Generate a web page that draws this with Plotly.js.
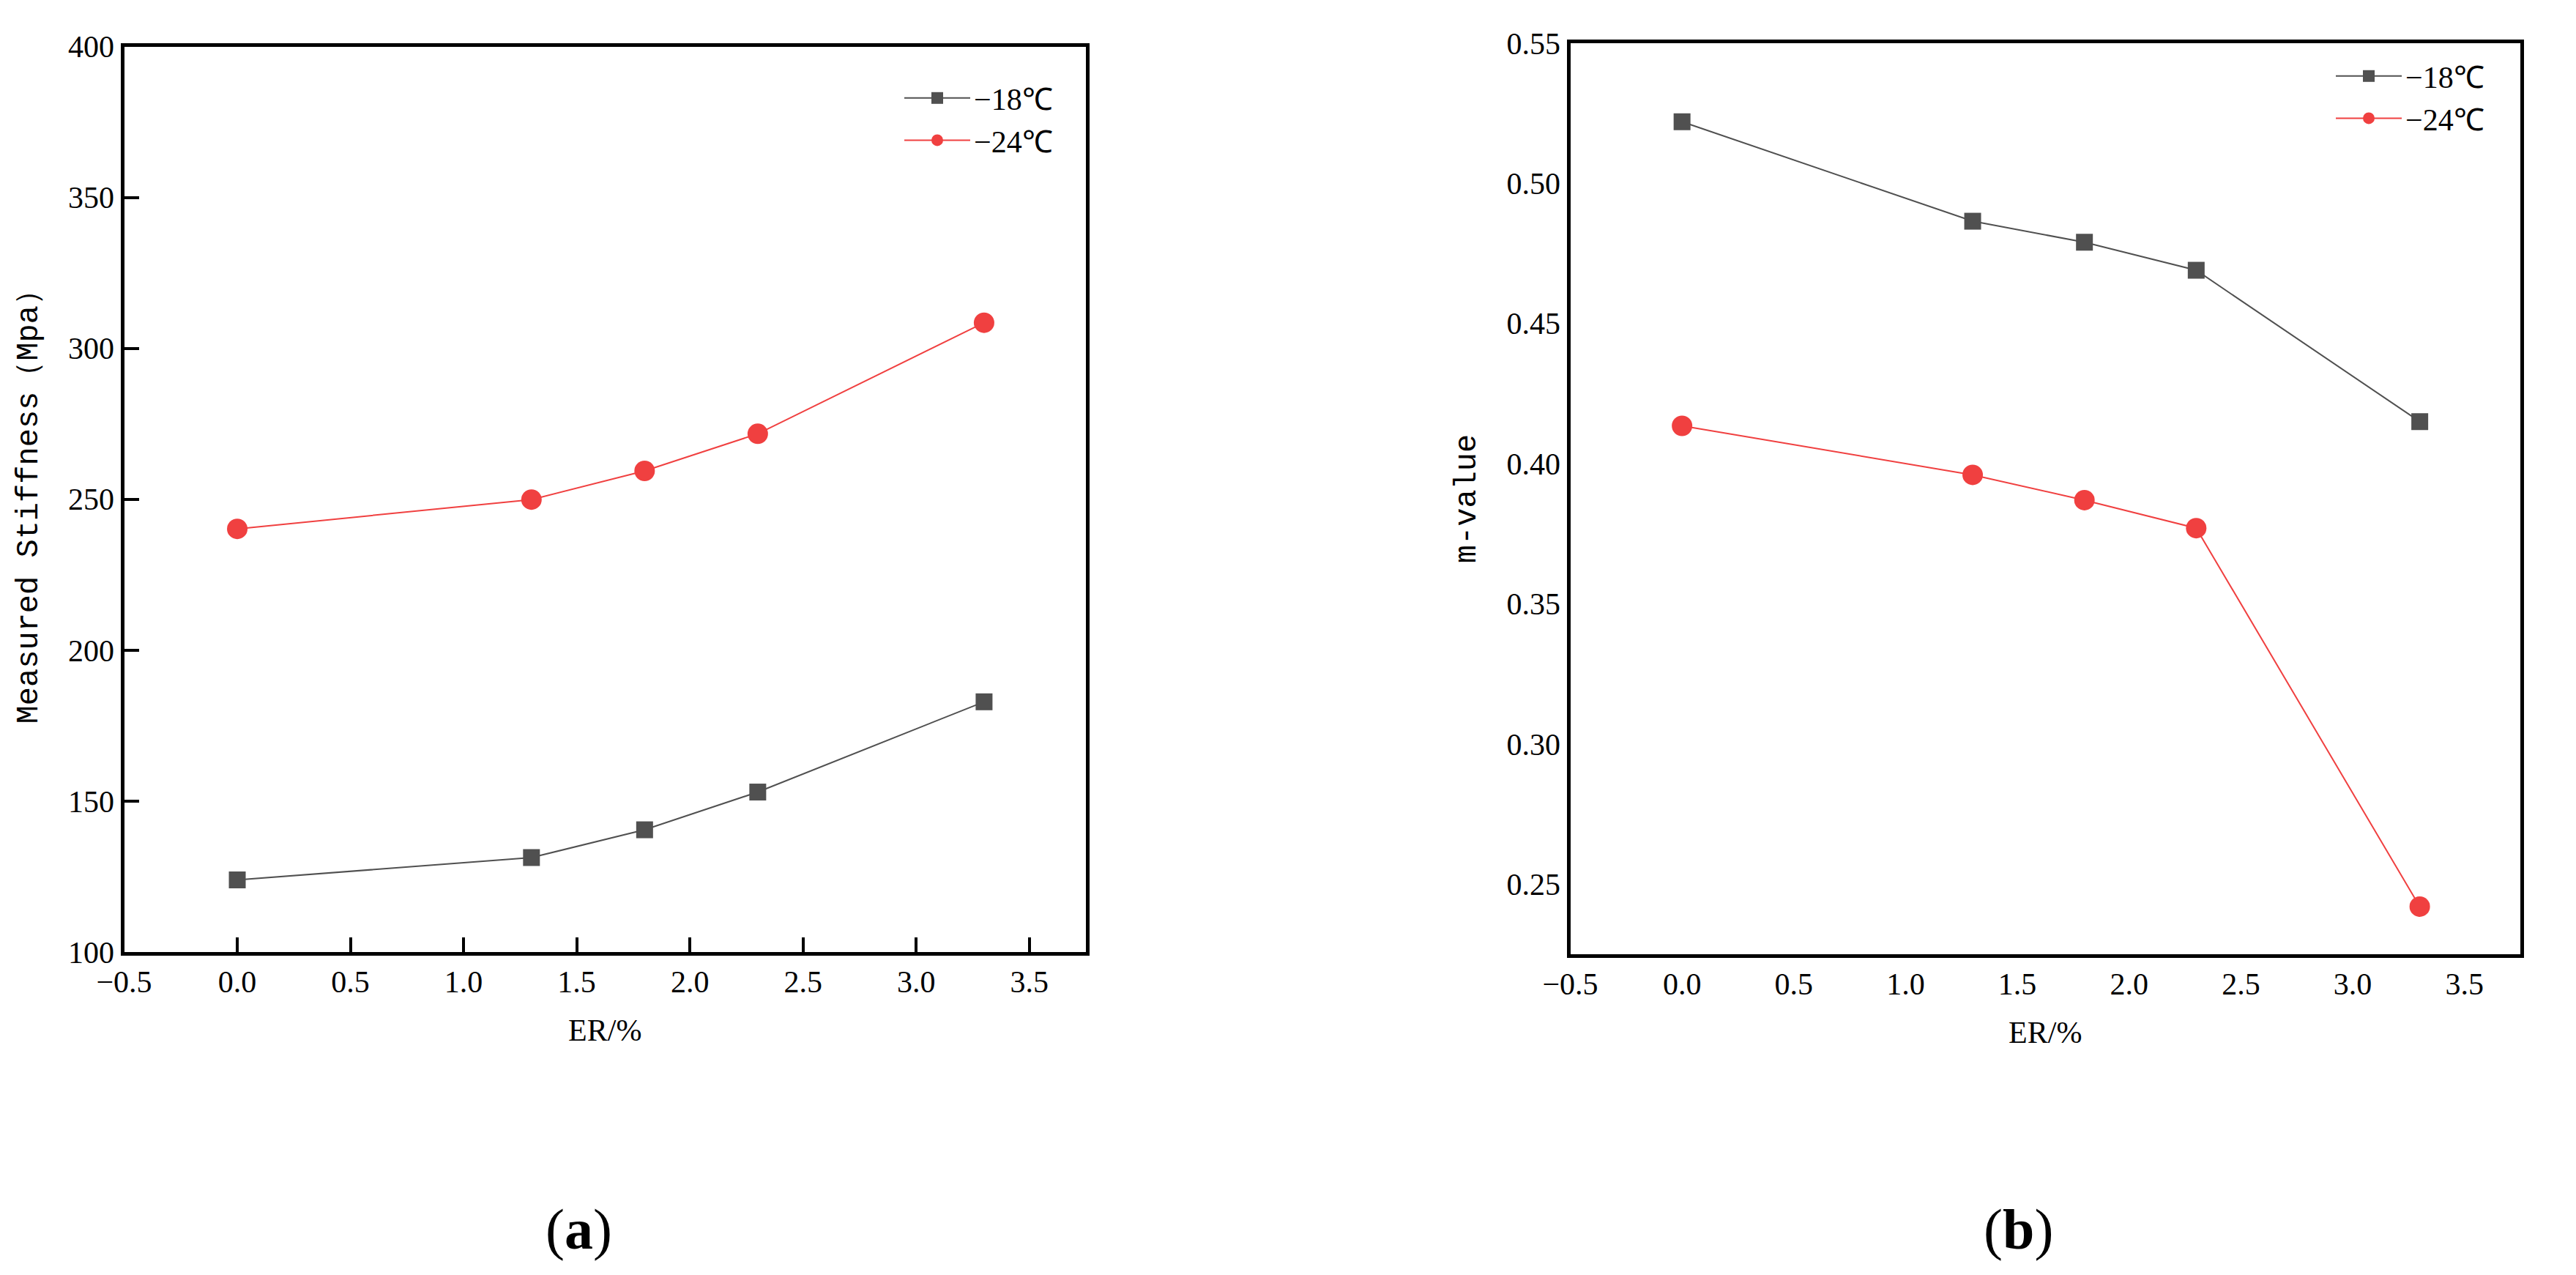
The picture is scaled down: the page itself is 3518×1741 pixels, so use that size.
<!DOCTYPE html>
<html>
<head>
<meta charset="utf-8">
<script src="https://cdn.plot.ly/plotly-3.0.1.min.js"></script>
<style>html,body{margin:0;padding:0;background:#fff;}#chart{width:3518px;height:1741px;}</style>
</head>
<body>
<div id="chart"></div>
<script>
// ---- data ----
const erPercent = [0, 1.3, 1.8, 2.3, 3.3];
const seriesNames = ["\u221218\u2103", "\u221224\u2103"];
const stiffness18 = [123.9, 131.3, 140.5, 153.0, 182.9];
const stiffness24 = [240.2, 249.9, 259.4, 271.7, 308.5];
const mValue18 = [0.522, 0.4865, 0.479, 0.469, 0.415];
const mValue24 = [0.4135, 0.396, 0.387, 0.377, 0.242];
const xTickVals = [-0.5, 0, 0.5, 1, 1.5, 2, 2.5, 3, 3.5];
const stiffTickVals = [100, 150, 200, 250, 300, 350, 400];
const mTickVals = [0.25, 0.30, 0.35, 0.40, 0.45, 0.50, 0.55];
const panelLabels = ["(<b>a</b>)", "(<b>b</b>)"];
const xTitle = "ER/%";
const yTitleA = "Measured Stiffness\uFF08Mpa\uFF09";
const yTitleB = "m-value";

// ---- styling ----
const W = 3518, H = 1741;
const GRAY = "#505050", RED = "#F04040";
const serif = "Liberation Serif";
const mono = "Liberation Mono";
const tickFont = {family: serif, size: 42, color: "#000"};

function mkTrace(y, name, color, symbol, size, xa, ya, legend) {
  return {
    x: erPercent, y: y, name: name, type: "scatter", mode: "lines+markers",
    line: {color: color, width: 2},
    marker: {color: color, symbol: symbol, size: size},
    xaxis: xa, yaxis: ya, showlegend: true, legend: legend
  };
}

const traces = [
  mkTrace(stiffness18, seriesNames[0], GRAY, "square", 23, "x", "y", "legend"),
  mkTrace(stiffness24, seriesNames[1], RED, "circle", 28, "x", "y", "legend"),
  mkTrace(mValue18, seriesNames[0], GRAY, "square", 23, "x2", "y2", "legend2"),
  mkTrace(mValue24, seriesNames[1], RED, "circle", 28, "x2", "y2", "legend2")
];

function xAxis(domain, anchor, ticks) {
  return {
    domain: domain, anchor: anchor, range: [-0.5, 3.75],
    tickmode: "array", tickvals: xTickVals, tickformat: ".1f",
    ticks: ticks, ticklen: 20, tickwidth: 4, tickcolor: "#000",
    showline: true, linecolor: "#000", linewidth: 5, mirror: true,
    showgrid: false, zeroline: false, tickfont: tickFont,
    title: {text: xTitle, font: {family: serif, size: 42, color: "#000"}, standoff: 30},
    automargin: false
  };
}
function yAxis(domain, anchor, range, tv, fmt, ticks, title, standoff) {
  return {
    domain: domain, anchor: anchor, range: range,
    tickmode: "array", tickvals: tv, tickformat: fmt,
    ticks: ticks, ticklen: 20, tickwidth: 4, tickcolor: "#000",
    showline: true, linecolor: "#000", linewidth: 5, mirror: true,
    showgrid: false, zeroline: false, tickfont: tickFont,
    title: {text: title, font: {family: mono, size: 42, color: "#000"}, standoff: standoff},
    automargin: false
  };
}

const legendCommon = {
  font: {family: serif, size: 42, color: "#000"},
  bgcolor: "rgba(0,0,0,0)", borderwidth: 0,
  xanchor: "left", yanchor: "top", itemwidth: 90, tracegroupgap: 0
};

const layout = {
  width: W, height: H,
  margin: {l: 0, r: 0, t: 0, b: 0},
  paper_bgcolor: "#fff", plot_bgcolor: "#fff",
  showlegend: true,
  xaxis: xAxis([169.5 / W, 1483 / W], "y", "inside"),
  yaxis: yAxis([1 - 1300 / H, 1 - 63.5 / H], "x", [100, 400], stiffTickVals, "d", "inside", yTitleA, 30),
  xaxis2: xAxis([2144.5 / W, 3442 / W], "y2", ""),
  yaxis2: yAxis([1 - 1303 / H, 1 - 59 / H], "x2", [0.225, 0.55], mTickVals, ".2f", "", yTitleB, 30),
  legend: Object.assign({}, legendCommon, {x: 1230 / W, y: 1 - 100 / H}),
  legend2: Object.assign({}, legendCommon, {x: 3185 / W, y: 1 - 70 / H}),
  annotations: [
    {text: panelLabels[0], xref: "paper", yref: "paper", x: 790 / W, y: 1 - 1678 / H,
     xanchor: "center", yanchor: "middle", showarrow: false,
     font: {family: serif, size: 78, color: "#000"}},
    {text: panelLabels[1], xref: "paper", yref: "paper", x: 2756 / W, y: 1 - 1678 / H,
     xanchor: "center", yanchor: "middle", showarrow: false,
     font: {family: serif, size: 78, color: "#000"}}
  ]
};

Plotly.newPlot("chart", traces, layout, {staticPlot: true, displayModeBar: false});
</script>
</body>
</html>
